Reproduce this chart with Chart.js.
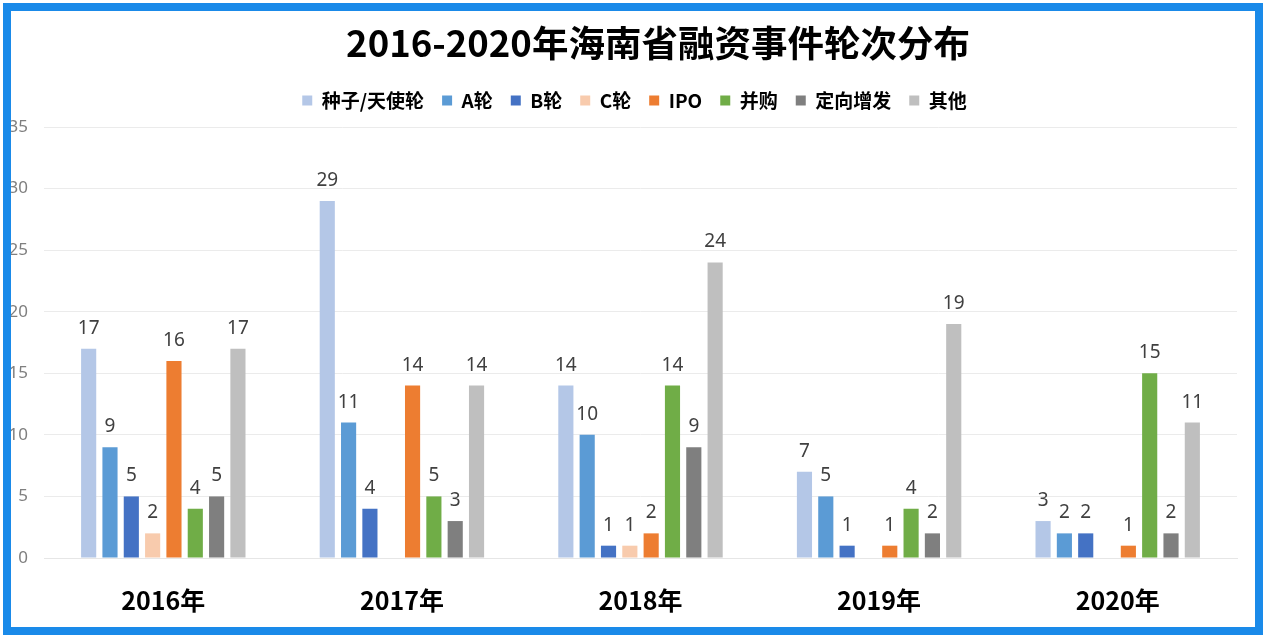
<!DOCTYPE html>
<html>
<head>
<meta charset="utf-8">
<script src="https://cdn.jsdelivr.net/npm/chart.js@4/dist/chart.umd.min.js"></script>
<style>
  html, body { margin: 0; padding: 0; background: #ffffff; }
  #wrap { position: relative; width: 1269px; height: 640px; overflow: hidden; }
  #c { position: absolute; left: 0; top: 0; }
  #frame { position: absolute; left: 3px; top: 3px; width: 1244px; height: 616px; border: 8px solid #1A8AE9; pointer-events: none; }
</style>
</head>
<body>
<div id="wrap">
  <canvas id="c" width="1269" height="640"></canvas>
  <div id="frame"></div>
</div>
<script>
const chartTitle = '2016-2020年海南省融资事件轮次分布';
const categories = ['2016年', '2017年', '2018年', '2019年', '2020年'];
const seriesNames = ['种子/天使轮', 'A轮', 'B轮', 'C轮', 'IPO', '并购', '定向增发', '其他'];
const seedAngel = [17, 29, 14, 7, 3];
const roundA = [9, 11, 10, 5, 2];
const roundB = [5, 4, 1, 1, 2];
const roundC = [2, 0, 1, 0, 0];
const ipo = [16, 14, 2, 1, 1];
const mergers = [4, 5, 14, 4, 15];
const privatePlacement = [5, 3, 9, 2, 2];
const others = [17, 14, 24, 19, 11];
const yTicks = [0, 5, 10, 15, 20, 25, 30, 35];

const seriesValues = [seedAngel, roundA, roundB, roundC, ipo, mergers, privatePlacement, others];
const colors = ['#B4C7E7', '#5B9BD5', '#4472C4', '#F8CBAD', '#ED7D31', '#70AD47', '#7F7F7F', '#BFBFBF'];

const titlePlugin = {
  id: 'titlePlugin',
  afterDraw(chart) {
    const ctx = chart.ctx;
    ctx.save();
    ctx.font = 'bold 36.5px "Noto Sans CJK SC", sans-serif';
    ctx.fillStyle = '#000000';
    ctx.textAlign = 'center';
    ctx.textBaseline = 'middle';
    ctx.fillText(chartTitle, 658, 43);
    ctx.restore();
  }
};

const valueLabels = {
  id: 'valueLabels',
  afterDatasetsDraw(chart) {
    const ctx = chart.ctx;
    ctx.save();
    ctx.font = '19px "Noto Sans", "Open Sans", sans-serif';
    ctx.fillStyle = '#404040';
    ctx.textAlign = 'center';
    ctx.textBaseline = 'alphabetic';
    chart.data.datasets.forEach((ds, di) => {
      const meta = chart.getDatasetMeta(di);
      meta.data.forEach((el, i) => {
        const v = ds.data[i];
        if (!v) return;
        ctx.fillText(String(v), el.x, el.y - 15);
      });
    });
    ctx.restore();
  }
};

new Chart(document.getElementById('c'), {
  type: 'bar',
  data: {
    labels: categories,
    datasets: seriesNames.map((name, i) => ({
      label: name,
      data: seriesValues[i],
      backgroundColor: colors[i],
      borderWidth: 0,
      categoryPercentage: 0.715,
      barPercentage: 0.71
    }))
  },
  options: {
    responsive: false,
    animation: false,
    devicePixelRatio: 1,
    layout: { padding: { top: 73, right: 0, bottom: 0, left: 0 } },
    plugins: {
      title: { display: false },
      legend: {
        display: true,
        labels: {
          boxWidth: 10,
          boxHeight: 10,
          padding: 18,
          color: '#000000',
          font: { family: '"Noto Sans CJK SC", sans-serif', size: 19, weight: 'bold' }
        }
      },
      tooltip: { enabled: false }
    },
    scales: {
      x: {
        grid: { display: false, drawTicks: false },
        border: { display: true, color: '#E6E6E6' },
        ticks: {
          color: '#000000',
          padding: 27,
          font: { family: '"Noto Sans CJK SC", sans-serif', size: 25, weight: 'bold' }
        },
        afterFit(s) { s.height = 82; }
      },
      xTop: {
        type: 'category',
        position: 'top',
        display: true,
        grid: { display: false, drawTicks: false },
        border: { display: false },
        ticks: { display: false },
        afterFit(s) { s.height = 7; }
      },
      y: {
        min: 0,
        max: 35,
        afterBuildTicks(s) { s.ticks = yTicks.map(v => ({ value: v })); },
        grid: { color: '#EBEBEB', drawTicks: false },
        border: { display: false },
        ticks: {
          color: '#7F7F7F',
          padding: 16,
          font: { family: '"Noto Sans", sans-serif', size: 17 }
        },
        afterFit(s) { s.width = 44; }
      },
      yRight: {
        type: 'linear',
        position: 'right',
        display: true,
        min: 0,
        max: 35,
        grid: { display: false, drawTicks: false },
        border: { display: false },
        ticks: { display: false },
        afterFit(s) { s.width = 32; }
      }
    }
  },
  plugins: [titlePlugin, valueLabels]
});
</script>
</body>
</html>
